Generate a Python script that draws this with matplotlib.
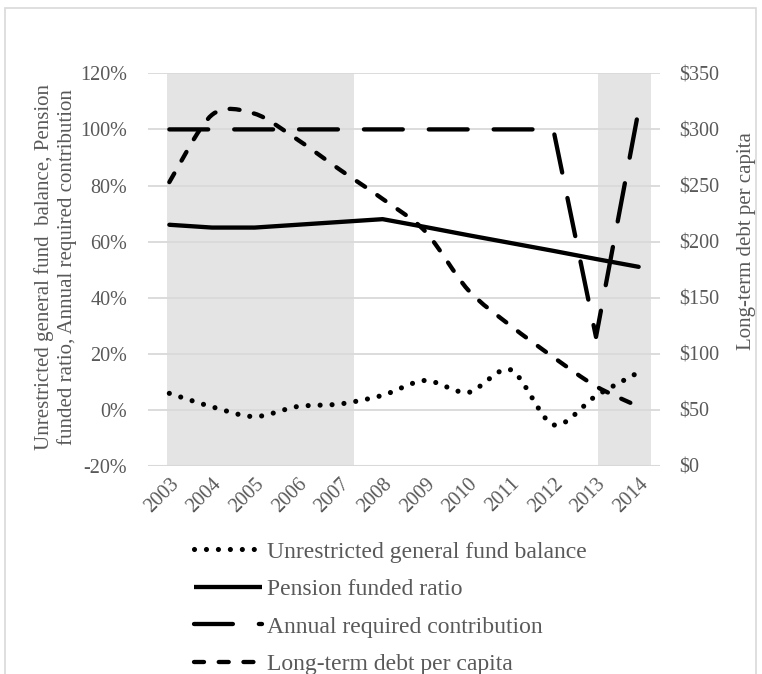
import matplotlib
matplotlib.use("Agg")
import matplotlib.pyplot as plt
from matplotlib.path import Path
from matplotlib.patches import PathPatch, Rectangle
from matplotlib.lines import Line2D
import numpy as np

years = ["2003", "2004", "2005", "2006", "2007", "2008",
         "2009", "2010", "2011", "2012", "2013", "2014"]
fund_balance = [5.9, 1.1, -2.4, 1.2, 2.1, 5.2, 10.5, 6.2, 14.3, -5.3, 5.0, 13.4]
pension_ratio = [66, 65, 65, 66, 67, 68, 65.2, 62.3, 59.5, 56.7, 53.8, 51]
arc = [100, 100, 100, 100, 100, 100, 100, 100, 100, 100, 26, 107]
debt = [253, 313, 314, 291, 264, 238, 209, 157, 125, 97, 71, 53]

# shaded periods (category positions)
bands = [(-0.05, 4.32), (10.05, 11.3)]

plt.rcParams['font.family'] = ['Liberation Serif', 'DejaVu Serif']
plt.rcParams['lines.scale_dashes'] = False

GRAY = "#595959"
GRID = "#d9d9d9"
LW = 3.1

DOT = (0, (0.01, 8.6))
DASH = (0, (7.2, 10.6))
LONG = (0, (28, 18.7))


def smooth_path(xv, yv, k=0.15):
    # Excel-style smoothed line as cubic Bezier segments
    p = np.column_stack([xv, yv]).astype(float)
    n = len(p)
    verts = [p[0]]
    codes = [Path.MOVETO]
    for i in range(n - 1):
        prev = p[i - 1] if i > 0 else p[i]
        nxt = p[i + 2] if i + 2 < n else p[i + 1]
        c1 = p[i] + (p[i + 1] - prev) * k
        c2 = p[i + 1] - (nxt - p[i]) * k
        verts += [c1, c2, p[i + 1]]
        codes += [Path.CURVE4] * 3
    return Path(verts, codes)


fig = plt.figure(figsize=(7.62, 6.74), dpi=100)
ax = fig.add_axes([148 / 762, 1 - 466 / 674, 512 / 762, (466 - 73.3) / 674])
ax2 = ax.twinx()

x = np.arange(len(years))

for a, b in bands:
    ax.axvspan(a, b, color="#e4e4e4", lw=0, zorder=0)

ax.set_ylim(-20, 120)
ax.set_yticks(np.arange(-20, 121, 20))
ax.set_yticklabels([f"{v}%" for v in range(-20, 121, 20)])
ax.yaxis.grid(True, color=GRID, lw=1.3)
ax.set_axisbelow(True)
ax.set_xlim(-0.5, len(years) - 0.5)
ax.set_xticks(x)
ax.set_xticklabels(years, rotation=45, ha="right", rotation_mode="anchor")

ax2.set_ylim(0, 350)
ax2.set_yticks(np.arange(0, 351, 50))
ax2.set_yticklabels([f"${v}" for v in range(0, 351, 50)])

for a in (ax, ax2):
    for s in a.spines.values():
        s.set_visible(False)
    a.tick_params(length=0, colors=GRAY, labelsize=14.5)
ax.tick_params(axis="y", pad=15)
ax.tick_params(axis="x", pad=6)
ax2.tick_params(axis="y", pad=14)
ax.axhline(-20, color=GRID, lw=1.5, zorder=1)

# lines
fb = PathPatch(smooth_path(x, fund_balance), fill=False, lw=LW + 0.6, ec="black",
               linestyle=DOT, capstyle="round", zorder=3)
ax.add_patch(fb)
ax.plot(x, pension_ratio, color="black", lw=LW, solid_capstyle="round", zorder=3)
ax.plot(x, arc, color="black", lw=LW, linestyle=LONG, dash_capstyle="round", zorder=3)
db = PathPatch(smooth_path(x, debt), fill=False, lw=LW, ec="black",
               linestyle=DASH, capstyle="round", zorder=3)
ax2.add_patch(db)

# axis titles
fig.text(55.5 / 762, 1 - 267 / 674,
         "Unrestricted general fund  balance, Pension\nfunded ratio, Annual required contribution",
         rotation=90, ha="center", va="center", color=GRAY, fontsize=15,
         linespacing=1.2)
fig.text(746 / 762, 1 - 241 / 674, "Long-term debt per capita", rotation=90,
         ha="center", va="center", color=GRAY, fontsize=15)

# legend
handles = [
    Line2D([], [], color="black", lw=LW + 0.6, linestyle=DOT, dash_capstyle="round"),
    Line2D([], [], color="black", lw=LW, solid_capstyle="butt"),
    Line2D([], [], color="black", lw=LW, linestyle=LONG, dash_capstyle="round"),
    Line2D([], [], color="black", lw=LW, linestyle=DASH, dash_capstyle="round"),
]
labels = ["Unrestricted general fund balance", "Pension funded ratio",
          "Annual required contribution", "Long-term debt per capita"]
fig.legend(handles, labels, loc="upper left", bbox_to_anchor=(194 / 762, 1 - 541 / 674),
           frameon=False, fontsize=17, labelcolor=GRAY, handlelength=2.9,
           handletextpad=0.2, labelspacing=0.68, borderpad=0, borderaxespad=0)

# chart border
fig.add_artist(Rectangle((5 / 762, -0.01), 751 / 762, 1 - 8 / 674 + 0.01,
                         transform=fig.transFigure, fill=False, ec=GRID, lw=1.2))

fig.savefig("out.png", dpi=100)
